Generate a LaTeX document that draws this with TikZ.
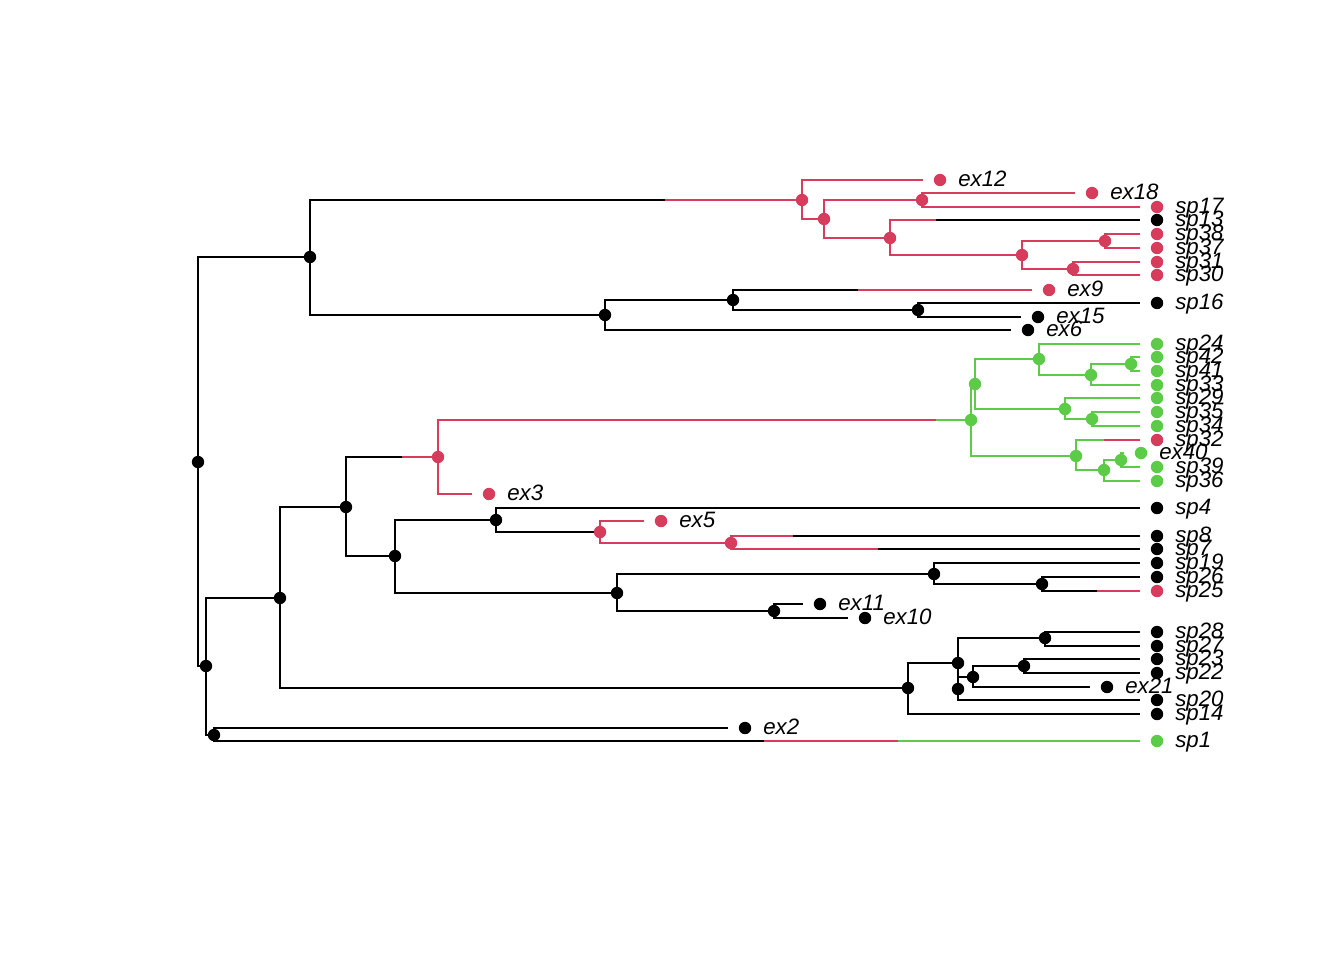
\documentclass[tikz,border=0pt]{standalone}
\usepackage{fontspec}
\setmainfont{Liberation Sans}
\definecolor{cr}{HTML}{D83C5C}
\definecolor{cg}{HTML}{5CCB48}
\definecolor{ck}{HTML}{000000}
\begin{document}
\begin{tikzpicture}[x=0.75pt,y=-0.75pt,
  br/.style={line width=1.5pt},
  bk/.style={br,draw=ck},
  bred/.style={br,draw=cr},
  bgrn/.style={br,draw=cg},
  dot/.style={circle,inner sep=0pt,minimum size=9.3pt,draw=none},
  lab/.style={anchor=base west,inner sep=0pt,font=\fontsize{16.7}{19}\selectfont\itshape}]
\path (0,0) rectangle (1344,960);
% internal nodes
\coordinate (root) at (198,462);
\coordinate (A) at (310,257);
\coordinate (B) at (206,666);
\coordinate (C) at (802,200);
\coordinate (D) at (824,219);
\coordinate (E) at (922,200);
\coordinate (F) at (890,238);
\coordinate (G) at (1022,255);
\coordinate (H) at (1105,241);
\coordinate (I) at (1073,269);
\coordinate (J) at (605,315);
\coordinate (K) at (733,300);
\coordinate (L) at (918,310);
\coordinate (M) at (280,598);
\coordinate (N) at (214,735);
\coordinate (O) at (346,507);
\coordinate (Q) at (438,457);
\coordinate (R) at (395,556);
\coordinate (S) at (971,420);
\coordinate (T) at (975,384);
\coordinate (U) at (1076,456);
\coordinate (V) at (1039,359);
\coordinate (W) at (1065,409);
\coordinate (X) at (1091,375);
\coordinate (Y) at (1131,364);
\coordinate (Z) at (1092,419);
\coordinate (AA) at (1104,470);
\coordinate (AB) at (1121,460);
\coordinate (AC) at (496,520);
\coordinate (AE) at (600,532);
\coordinate (AF) at (731,543);
\coordinate (AD) at (617,593);
\coordinate (AG) at (934,574);
\coordinate (AI) at (1042,584);
\coordinate (AH) at (774,611);
\coordinate (P) at (908,688);
\coordinate (AJ) at (958,663);
\coordinate (AK) at (958,689);
\coordinate (AL) at (1045,638);
\coordinate (AM) at (973,677);
\coordinate (AN) at (1024,666);
% tip line ends
\foreach \n/\x/\y in {ex12/923/180, ex18/1075/193, sp17/1140/207, sp13/1140/220,
  sp38/1140/234, sp37/1140/248, sp31/1140/262, sp30/1140/275, ex9/1032/290,
  sp16/1140/303, ex15/1021/317, ex6/1011/330, sp24/1140/344, sp42/1140/357,
  sp41/1140/371, sp33/1140/385, sp29/1140/398, sp35/1140/412, sp34/1140/426,
  sp32/1140/440, ex40/1124/453, sp39/1140/467, sp36/1140/481, ex3/472/494,
  sp4/1140/508, ex5/644/521, sp8/1140/536, sp7/1140/549, sp19/1140/563,
  sp26/1140/577, sp25/1140/591, ex11/803/604, ex10/848/618, sp28/1140/632,
  sp27/1140/646, sp23/1140/659, sp22/1140/673, ex21/1090/687, sp20/1140/700,
  sp14/1140/714, ex2/728/728, sp1/1140/741}
  {\coordinate (e-\n) at (\x,\y);}
% colour-change points
\coordinate (bAC) at (665,200);
\coordinate (bsp13) at (936,220);
\coordinate (bex9) at (858,290);
\coordinate (bOQ) at (402,457);
\coordinate (bQS) at (936,420);
\coordinate (bsp32) at (1104,440);
\coordinate (bACAE) at (595,532);
\coordinate (bsp8) at (793,536);
\coordinate (bsp7) at (878,549);
\coordinate (bsp25) at (1097,591);
\coordinate (bsp1a) at (764,741);
\coordinate (bsp1b) at (898,741);
% black branches
\foreach \p/\c in {root/A, root/B, A/J, J/K, J/e-ex6, K/L, L/e-sp16, L/e-ex15,
  B/M, B/N, N/e-ex2, M/O, M/P, O/R, R/AC, R/AD, AC/e-sp4, AD/AG, AD/AH,
  AG/e-sp19, AG/AI, AI/e-sp26, AH/e-ex11, AH/e-ex10, P/AJ, P/e-sp14,
  AJ/AL, AJ/AK, AL/e-sp28, AL/e-sp27, AK/AM, AK/e-sp20, AM/AN, AM/e-ex21,
  AN/e-sp23, AN/e-sp22}
  {\draw[bk] (\p) |- (\c);}
\draw[bk] (bsp13) -- (e-sp13);
\draw[bk] (bsp8) -- (e-sp8);
\draw[bk] (bsp7) -- (e-sp7);
% split branches starting black
\draw[bk] (A) |- (bAC); \draw[bred] (bAC) -- (C);
\draw[bk] (K) |- (bex9); \draw[bred] (bex9) -- (e-ex9);
\draw[bk] (O) |- (bOQ); \draw[bred] (bOQ) -- (Q);
\draw[bk] (AC) |- (bACAE); \draw[bred] (bACAE) -- (AE);
\draw[bk] (AI) |- (bsp25); \draw[bred] (bsp25) -- (e-sp25);
\draw[bk] (N) |- (bsp1a); \draw[bred] (bsp1a) -- (bsp1b); \draw[bgrn] (bsp1b) -- (e-sp1);
% red branches
\foreach \p/\c in {C/e-ex12, C/D, D/E, D/F, E/e-ex18, E/e-sp17, F/G, G/H, G/I,
  H/e-sp38, H/e-sp37, I/e-sp31, I/e-sp30, Q/e-ex3, Q/bQS, AE/e-ex5, AE/AF,
  F/bsp13, AF/bsp8, AF/bsp7}
  {\draw[bred] (\p) |- (\c);}
\draw[bred] (bsp32) -- (e-sp32);
% green branches
\draw[bgrn] (bQS) -- (S);
\foreach \p/\c in {S/T, S/U, T/V, T/W, V/e-sp24, V/X, X/Y, X/e-sp33,
  Y/e-sp42, Y/e-sp41, W/e-sp29, W/Z, Z/e-sp35, Z/e-sp34, U/bsp32, U/AA,
  AA/AB, AA/e-sp36, AB/e-ex40, AB/e-sp39}
  {\draw[bgrn] (\p) |- (\c);}
% internal node dots
\foreach \n in {root,A,B,J,K,L,M,N,O,R,AC,AD,AG,AI,AH,P,AJ,AK,AL,AM,AN}
  {\node[dot,fill=ck] (n-\n) at (\n) {};}
\foreach \n in {C,D,E,F,G,H,I,Q,AE,AF}
  {\node[dot,fill=cr] (n-\n) at (\n) {};}
\foreach \n in {S,T,U,V,W,X,Y,Z,AA,AB}
  {\node[dot,fill=cg] (n-\n) at (\n) {};}
% tip dots and labels
\foreach \n/\x/\y/\c in {ex12/940/180/cr, ex18/1092/193/cr, sp17/1157/207/cr,
  sp13/1157/220/ck, sp38/1157/234/cr, sp37/1157/248/cr, sp31/1157/262/cr,
  sp30/1157/275/cr, ex9/1049/290/cr, sp16/1157/303/ck, ex15/1038/317/ck,
  ex6/1028/330/ck, sp24/1157/344/cg, sp42/1157/357/cg, sp41/1157/371/cg,
  sp33/1157/385/cg, sp29/1157/398/cg, sp35/1157/412/cg, sp34/1157/426/cg,
  sp32/1157/440/cr, ex40/1141/453/cg, sp39/1157/467/cg, sp36/1157/481/cg,
  ex3/489/494/cr, sp4/1157/508/ck, ex5/661/521/cr, sp8/1157/536/ck,
  sp7/1157/549/ck, sp19/1157/563/ck, sp26/1157/577/ck, sp25/1157/591/cr,
  ex11/820/604/ck, ex10/865/618/ck, sp28/1157/632/ck, sp27/1157/646/ck,
  sp23/1157/659/ck, sp22/1157/673/ck, ex21/1107/687/ck, sp20/1157/700/ck,
  sp14/1157/714/ck, ex2/745/728/ck, sp1/1157/741/cg}
  {\node[dot,fill=\c] (d-\n) at (\x,\y) {};
   \node[lab] (l-\n) at (\x+18,\y+6.5) {\n};}
\end{tikzpicture}
\end{document}
